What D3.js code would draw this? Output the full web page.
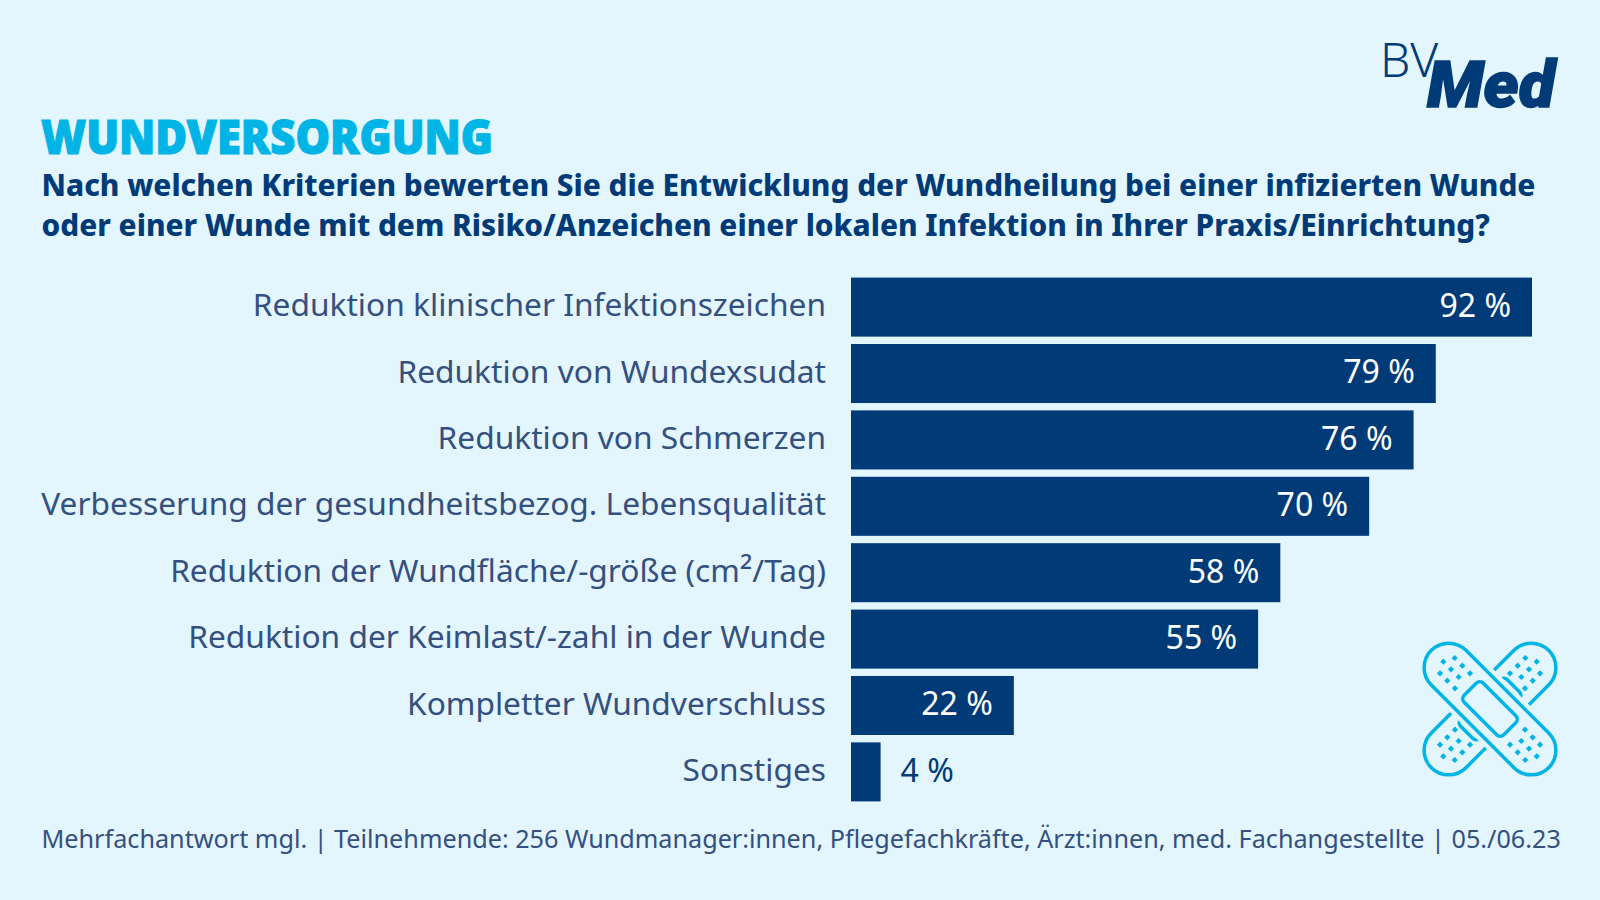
<!DOCTYPE html>
<html>
<head>
<meta charset="utf-8">
<script src="https://cdn.jsdelivr.net/npm/d3@7"></script>
<style>
  html, body { margin: 0; padding: 0; background: #e3f5fd; }
  text { font-family: "Noto Sans", sans-serif; }
</style>
</head>
<body>
<div id="graph"></div>
<script>
var categories = [
  "Reduktion klinischer Infektionszeichen",
  "Reduktion von Wundexsudat",
  "Reduktion von Schmerzen",
  "Verbesserung der gesundheitsbezog. Lebensqualität",
  "Reduktion der Wundfläche/-größe (cm²/Tag)",
  "Reduktion der Keimlast/-zahl in der Wunde",
  "Kompletter Wundverschluss",
  "Sonstiges"
];
var values = [92, 79, 76, 70, 58, 55, 22, 4];
var title = "WUNDVERSORGUNG";
var question = [
  "Nach welchen Kriterien bewerten Sie die Entwicklung der Wundheilung bei einer infizierten Wunde",
  "oder einer Wunde mit dem Risiko/Anzeichen einer lokalen Infektion in Ihrer Praxis/Einrichtung?"
];
var footer = "Mehrfachantwort mgl. | Teilnehmende: 256 Wundmanager:innen, Pflegefachkräfte, Ärzt:innen, med. Fachangestellte | 05./06.23";

var bg = "#e3f5fd", navy = "#003b78", cyan = "#00b4e6", labelColor = "#34507f";

var svg = d3.select("#graph").append("svg")
  .attr("width", 1600).attr("height", 900)
  .style("display", "block");

svg.append("text").attr("x", 41).attr("y", 153.5)
  .attr("font-size", 47).attr("font-weight", 900).attr("fill", cyan)
  .attr("stroke", cyan).attr("stroke-width", 1.2)
  .attr("textLength", 452).attr("lengthAdjust", "spacingAndGlyphs")
  .text(title);

svg.selectAll("text.question")
  .data(question)
  .enter().append("text")
  .attr("class", "question")
  .attr("x", 41.5)
  .attr("y", function(d, i) { return 196 + i * 40; })
  .attr("font-size", 29.75).attr("font-weight", 800).attr("fill", navy)
  .text(function(d) { return d; });

var x = d3.scaleLinear().domain([0, 92]).range([851, 1532]);
var y = d3.scaleBand().domain(categories).range([277.6, 801.4]).paddingInner(0.111);

svg.selectAll("rect.bar")
  .data(values)
  .enter().append("rect")
  .attr("class", "bar")
  .attr("x", x(0))
  .attr("y", function(d, i) { return y(categories[i]); })
  .attr("width", function(d) { return x(d) - x(0); })
  .attr("height", y.bandwidth())
  .attr("fill", navy);

svg.selectAll("text.cat")
  .data(categories)
  .enter().append("text")
  .attr("class", "cat")
  .attr("x", 826)
  .attr("y", function(d) { return y(d) + y.bandwidth() / 2; })
  .attr("dy", "0.29em")
  .attr("text-anchor", "end")
  .attr("font-size", 31.7).attr("fill", labelColor)
  .each(function(d) {
    // the squared sign is a little larger in the original
    var parts = d.split("²"), t = d3.select(this);
    t.append("tspan").text(parts[0]);
    if (parts.length > 1) {
      t.append("tspan").attr("font-size", "1.12em").attr("dy", "0.05em").text("²");
      t.append("tspan").attr("dy", "-0.05em").text(parts[1]);
    }
  });

svg.selectAll("text.val")
  .data(values)
  .enter().append("text")
  .attr("class", "val")
  .attr("x", function(d) { return d < 10 ? x(d) + 20 : x(d) - 21; })
  .attr("y", function(d, i) { return y(categories[i]) + y.bandwidth() / 2; })
  .attr("dy", "0.31em")
  .attr("text-anchor", function(d) { return d < 10 ? "start" : "end"; })
  .attr("font-size", 32)
  .attr("fill", function(d) { return d < 10 ? navy : "#fff"; })
  .text(function(d) { return d + " %"; });

svg.append("text").attr("x", 41.5).attr("y", 848)
  .attr("font-size", 25.2).attr("fill", labelColor)
  .text(footer);

// logo
svg.append("text").attr("x", 1380).attr("y", 77)
  .attr("font-size", 48).attr("font-weight", 300).attr("fill", navy)
  .text("BV");
svg.append("text").attr("x", 1427).attr("y", 107)
  .attr("font-size", 64).attr("font-weight", 900).attr("font-style", "italic").attr("fill", navy)
  .attr("stroke", navy).attr("stroke-width", 1.5)
  .attr("textLength", 128).attr("lengthAdjust", "spacingAndGlyphs")
  .style("font-family", "Roboto")
  .text("Med");

// plaster icon, offsets from its centre
var dots = [[-46.7,-47.3],[-35.3,-51],[-50,-35.7],[-39,-39.7],[-27.7,-43.3],[-42.7,-28.3],[-31.3,-32],[-20,-35.7],[-35,-20.7]];
var icon = svg.append("g").attr("transform", "translate(1490,709)")
  .attr("fill", bg).attr("stroke", cyan).attr("stroke-width", 3.5);

icon.append("rect").attr("x", -83).attr("y", -24.5).attr("width", 166).attr("height", 49).attr("rx", 24.5)
  .attr("transform", "rotate(-45)");
icon.append("rect").attr("x", -33).attr("y", -13.5).attr("width", 66).attr("height", 27).attr("rx", 5)
  .attr("transform", "rotate(-45)");
// halo cuts the lower strip before the upper one is drawn
icon.append("rect").attr("x", -83).attr("y", -24.5).attr("width", 166).attr("height", 49).attr("rx", 24.5)
  .attr("transform", "rotate(45)").attr("stroke", bg).attr("stroke-width", 12);
icon.append("rect").attr("x", -83).attr("y", -24.5).attr("width", 166).attr("height", 49).attr("rx", 24.5)
  .attr("transform", "rotate(45)");
icon.append("rect").attr("x", -28).attr("y", -13.5).attr("width", 56).attr("height", 27).attr("rx", 5)
  .attr("transform", "rotate(45)");

[[1, 1], [-1, 1], [1, -1], [-1, -1]].forEach(function(m) {
  icon.selectAll(null)
    .data(dots)
    .enter().append("rect")
    .attr("width", 4.4).attr("height", 4.4)
    .attr("x", -2.2).attr("y", -2.2)
    .attr("stroke", "none").attr("fill", cyan)
    .attr("transform", function(d) { return "translate(" + d[0] * m[0] + "," + d[1] * m[1] + ") rotate(45)"; });
});
</script>
</body>
</html>
